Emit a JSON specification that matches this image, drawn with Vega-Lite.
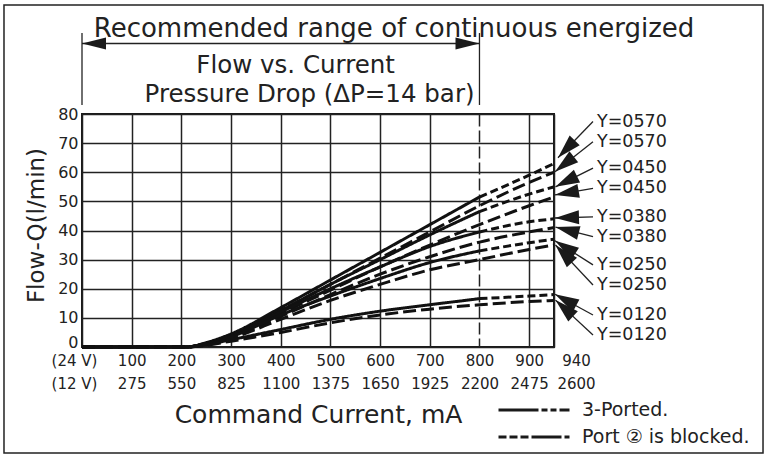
{
  "$schema": "https://vega.github.io/schema/vega-lite/v6.json",
  "width": 472,
  "height": 233,
  "autosize": {"type": "none"},
  "padding": {"left": 82, "top": 114, "right": 213, "bottom": 110},
  "background": "white",
  "config": {
    "font": "DejaVu Sans",
    "view": {"stroke": "#1a1a1a", "strokeWidth": 2},
    "axis": {"domain": false, "ticks": false, "grid": true, "gridColor": "#222", "gridWidth": 1.5, "gridOpacity": 1, "labelColor": "#222", "labelFont": "DejaVu Sans", "titleFont": "DejaVu Sans", "titleColor": "#222", "titleFontWeight": "normal"},
    "text": {"font": "DejaVu Sans", "color": "#222"}
  },
  "datasets": {
    "flow": [
      {"cfg": "3-Ported.", "Y": "0570", "current": 0, "flow": 0},
      {"cfg": "3-Ported.", "Y": "0570", "current": 210, "flow": 0},
      {"cfg": "3-Ported.", "Y": "0570", "current": 250, "flow": 1.5},
      {"cfg": "3-Ported.", "Y": "0570", "current": 300, "flow": 4.5},
      {"cfg": "3-Ported.", "Y": "0570", "current": 400, "flow": 13.5},
      {"cfg": "3-Ported.", "Y": "0570", "current": 500, "flow": 23},
      {"cfg": "3-Ported.", "Y": "0570", "current": 600, "flow": 32.5},
      {"cfg": "3-Ported.", "Y": "0570", "current": 700, "flow": 42},
      {"cfg": "3-Ported.", "Y": "0570", "current": 800, "flow": 51.5},
      {"cfg": "3-Ported.", "Y": "0570", "current": 900, "flow": 59},
      {"cfg": "3-Ported.", "Y": "0570", "current": 950, "flow": 63},
      {"cfg": "Port ② is blocked.", "Y": "0570", "current": 0, "flow": 0},
      {"cfg": "Port ② is blocked.", "Y": "0570", "current": 210, "flow": 0},
      {"cfg": "Port ② is blocked.", "Y": "0570", "current": 250, "flow": 1.3},
      {"cfg": "Port ② is blocked.", "Y": "0570", "current": 300, "flow": 4},
      {"cfg": "Port ② is blocked.", "Y": "0570", "current": 400, "flow": 12.5},
      {"cfg": "Port ② is blocked.", "Y": "0570", "current": 500, "flow": 21.5},
      {"cfg": "Port ② is blocked.", "Y": "0570", "current": 600, "flow": 30.5},
      {"cfg": "Port ② is blocked.", "Y": "0570", "current": 700, "flow": 39.5},
      {"cfg": "Port ② is blocked.", "Y": "0570", "current": 800, "flow": 48.5},
      {"cfg": "Port ② is blocked.", "Y": "0570", "current": 900, "flow": 56.5},
      {"cfg": "Port ② is blocked.", "Y": "0570", "current": 950, "flow": 60},
      {"cfg": "3-Ported.", "Y": "0450", "current": 0, "flow": 0},
      {"cfg": "3-Ported.", "Y": "0450", "current": 210, "flow": 0},
      {"cfg": "3-Ported.", "Y": "0450", "current": 250, "flow": 1.3},
      {"cfg": "3-Ported.", "Y": "0450", "current": 300, "flow": 4},
      {"cfg": "3-Ported.", "Y": "0450", "current": 400, "flow": 12.5},
      {"cfg": "3-Ported.", "Y": "0450", "current": 500, "flow": 21.5},
      {"cfg": "3-Ported.", "Y": "0450", "current": 600, "flow": 30},
      {"cfg": "3-Ported.", "Y": "0450", "current": 700, "flow": 38.5},
      {"cfg": "3-Ported.", "Y": "0450", "current": 800, "flow": 46.5},
      {"cfg": "3-Ported.", "Y": "0450", "current": 900, "flow": 52.5},
      {"cfg": "3-Ported.", "Y": "0450", "current": 950, "flow": 55},
      {"cfg": "Port ② is blocked.", "Y": "0450", "current": 0, "flow": 0},
      {"cfg": "Port ② is blocked.", "Y": "0450", "current": 210, "flow": 0},
      {"cfg": "Port ② is blocked.", "Y": "0450", "current": 250, "flow": 1.1},
      {"cfg": "Port ② is blocked.", "Y": "0450", "current": 300, "flow": 3.5},
      {"cfg": "Port ② is blocked.", "Y": "0450", "current": 400, "flow": 11.5},
      {"cfg": "Port ② is blocked.", "Y": "0450", "current": 500, "flow": 19.5},
      {"cfg": "Port ② is blocked.", "Y": "0450", "current": 600, "flow": 27.5},
      {"cfg": "Port ② is blocked.", "Y": "0450", "current": 700, "flow": 35},
      {"cfg": "Port ② is blocked.", "Y": "0450", "current": 800, "flow": 42},
      {"cfg": "Port ② is blocked.", "Y": "0450", "current": 900, "flow": 48.5},
      {"cfg": "Port ② is blocked.", "Y": "0450", "current": 950, "flow": 51.5},
      {"cfg": "3-Ported.", "Y": "0380", "current": 0, "flow": 0},
      {"cfg": "3-Ported.", "Y": "0380", "current": 210, "flow": 0},
      {"cfg": "3-Ported.", "Y": "0380", "current": 250, "flow": 1.2},
      {"cfg": "3-Ported.", "Y": "0380", "current": 300, "flow": 3.8},
      {"cfg": "3-Ported.", "Y": "0380", "current": 400, "flow": 12},
      {"cfg": "3-Ported.", "Y": "0380", "current": 500, "flow": 20},
      {"cfg": "3-Ported.", "Y": "0380", "current": 600, "flow": 27.5},
      {"cfg": "3-Ported.", "Y": "0380", "current": 700, "flow": 34.5},
      {"cfg": "3-Ported.", "Y": "0380", "current": 800, "flow": 39.5},
      {"cfg": "3-Ported.", "Y": "0380", "current": 900, "flow": 43},
      {"cfg": "3-Ported.", "Y": "0380", "current": 950, "flow": 44},
      {"cfg": "Port ② is blocked.", "Y": "0380", "current": 0, "flow": 0},
      {"cfg": "Port ② is blocked.", "Y": "0380", "current": 210, "flow": 0},
      {"cfg": "Port ② is blocked.", "Y": "0380", "current": 250, "flow": 1},
      {"cfg": "Port ② is blocked.", "Y": "0380", "current": 300, "flow": 3.3},
      {"cfg": "Port ② is blocked.", "Y": "0380", "current": 400, "flow": 10.5},
      {"cfg": "Port ② is blocked.", "Y": "0380", "current": 500, "flow": 18},
      {"cfg": "Port ② is blocked.", "Y": "0380", "current": 600, "flow": 25},
      {"cfg": "Port ② is blocked.", "Y": "0380", "current": 700, "flow": 31},
      {"cfg": "Port ② is blocked.", "Y": "0380", "current": 800, "flow": 36},
      {"cfg": "Port ② is blocked.", "Y": "0380", "current": 900, "flow": 39.5},
      {"cfg": "Port ② is blocked.", "Y": "0380", "current": 950, "flow": 41},
      {"cfg": "3-Ported.", "Y": "0250", "current": 0, "flow": 0},
      {"cfg": "3-Ported.", "Y": "0250", "current": 210, "flow": 0},
      {"cfg": "3-Ported.", "Y": "0250", "current": 250, "flow": 1.1},
      {"cfg": "3-Ported.", "Y": "0250", "current": 300, "flow": 3.5},
      {"cfg": "3-Ported.", "Y": "0250", "current": 400, "flow": 11},
      {"cfg": "3-Ported.", "Y": "0250", "current": 500, "flow": 17.5},
      {"cfg": "3-Ported.", "Y": "0250", "current": 600, "flow": 23.5},
      {"cfg": "3-Ported.", "Y": "0250", "current": 700, "flow": 29},
      {"cfg": "3-Ported.", "Y": "0250", "current": 800, "flow": 33},
      {"cfg": "3-Ported.", "Y": "0250", "current": 900, "flow": 35.8},
      {"cfg": "3-Ported.", "Y": "0250", "current": 950, "flow": 37},
      {"cfg": "Port ② is blocked.", "Y": "0250", "current": 0, "flow": 0},
      {"cfg": "Port ② is blocked.", "Y": "0250", "current": 210, "flow": 0},
      {"cfg": "Port ② is blocked.", "Y": "0250", "current": 250, "flow": 0.9},
      {"cfg": "Port ② is blocked.", "Y": "0250", "current": 300, "flow": 3},
      {"cfg": "Port ② is blocked.", "Y": "0250", "current": 400, "flow": 9.5},
      {"cfg": "Port ② is blocked.", "Y": "0250", "current": 500, "flow": 16},
      {"cfg": "Port ② is blocked.", "Y": "0250", "current": 600, "flow": 21.5},
      {"cfg": "Port ② is blocked.", "Y": "0250", "current": 700, "flow": 26.5},
      {"cfg": "Port ② is blocked.", "Y": "0250", "current": 800, "flow": 30},
      {"cfg": "Port ② is blocked.", "Y": "0250", "current": 900, "flow": 33.5},
      {"cfg": "Port ② is blocked.", "Y": "0250", "current": 950, "flow": 35},
      {"cfg": "3-Ported.", "Y": "0120", "current": 0, "flow": 0},
      {"cfg": "3-Ported.", "Y": "0120", "current": 210, "flow": 0},
      {"cfg": "3-Ported.", "Y": "0120", "current": 250, "flow": 0.8},
      {"cfg": "3-Ported.", "Y": "0120", "current": 300, "flow": 2.5},
      {"cfg": "3-Ported.", "Y": "0120", "current": 400, "flow": 6},
      {"cfg": "3-Ported.", "Y": "0120", "current": 500, "flow": 9.5},
      {"cfg": "3-Ported.", "Y": "0120", "current": 600, "flow": 12.3},
      {"cfg": "3-Ported.", "Y": "0120", "current": 700, "flow": 14.5},
      {"cfg": "3-Ported.", "Y": "0120", "current": 800, "flow": 16.6},
      {"cfg": "3-Ported.", "Y": "0120", "current": 900, "flow": 17.5},
      {"cfg": "3-Ported.", "Y": "0120", "current": 950, "flow": 18},
      {"cfg": "Port ② is blocked.", "Y": "0120", "current": 0, "flow": 0},
      {"cfg": "Port ② is blocked.", "Y": "0120", "current": 210, "flow": 0},
      {"cfg": "Port ② is blocked.", "Y": "0120", "current": 250, "flow": 0.6},
      {"cfg": "Port ② is blocked.", "Y": "0120", "current": 300, "flow": 2},
      {"cfg": "Port ② is blocked.", "Y": "0120", "current": 400, "flow": 5},
      {"cfg": "Port ② is blocked.", "Y": "0120", "current": 500, "flow": 8.3},
      {"cfg": "Port ② is blocked.", "Y": "0120", "current": 600, "flow": 11},
      {"cfg": "Port ② is blocked.", "Y": "0120", "current": 700, "flow": 13},
      {"cfg": "Port ② is blocked.", "Y": "0120", "current": 800, "flow": 14.5},
      {"cfg": "Port ② is blocked.", "Y": "0120", "current": 900, "flow": 15.6},
      {"cfg": "Port ② is blocked.", "Y": "0120", "current": 950, "flow": 16}
    ],
    "arrows": [
      {"label": "Y=0570", "tx": 958, "ty": 65.0, "lx": 1028.5, "ly": 77.4},
      {"label": "Y=0570", "tx": 952, "ty": 60.2, "lx": 1028.5, "ly": 70.5},
      {"label": "Y=0450", "tx": 953, "ty": 55.0, "lx": 1028.5, "ly": 61.4},
      {"label": "Y=0450", "tx": 952, "ty": 52.2, "lx": 1028.5, "ly": 54.5},
      {"label": "Y=0380", "tx": 952, "ty": 44.3, "lx": 1028.5, "ly": 44.7},
      {"label": "Y=0380", "tx": 953, "ty": 41.2, "lx": 1028.5, "ly": 37.9},
      {"label": "Y=0250", "tx": 952, "ty": 36.5, "lx": 1028.5, "ly": 28.2},
      {"label": "Y=0250", "tx": 953, "ty": 35.0, "lx": 1028.5, "ly": 21.3},
      {"label": "Y=0120", "tx": 952, "ty": 18.1, "lx": 1028.5, "ly": 11.0},
      {"label": "Y=0120", "tx": 953, "ty": 16.1, "lx": 1028.5, "ly": 4.1}
    ],
    "recommended": [{"from": 0, "to": 800}]
  },
  "layer": [
    {
      "data": {"name": "flow"},
      "transform": [{"filter": "datum.cfg !== '3-Ported.' || datum.current <= 800"}],
      "mark": {"type": "line", "strokeWidth": 3, "color": "#111", "interpolate": "monotone"},
      "encoding": {
        "x": {
          "field": "current", "type": "quantitative",
          "scale": {"domain": [0, 950], "nice": false},
          "axis": {
            "values": [0, 100, 200, 300, 400, 500, 600, 700, 800, 900, 950],
            "tickCount": 20,
            "labelExpr": "datum.value === 0 ? ['(24 V)', '(12 V)'] : datum.value === 950 ? ['940', '2600'] : [datum.label, '' + round(datum.value * 2.75)]",
            "labelFontSize": 15, "labelLineHeight": 23, "labelPadding": 6, "labelBaseline": "top",
            "labelFlush": false, "labelOverlap": false, "labelBound": false,
            "gridDash": {"condition": {"test": "datum.value === 800", "value": [12, 4]}, "value": []},
            "title": "Command Current, mA", "titleFontSize": 25, "titleY": 75, "titleBaseline": "alphabetic",
            "encoding": {"labels": {"dx": {"value": {"expr": "datum.value === 950 ? 22 : datum.value === 0 ? -8 : 0"}}}}
          }
        },
        "y": {
          "field": "flow", "type": "quantitative",
          "scale": {"domain": [0, 80], "nice": false},
          "axis": {
            "values": [0, 10, 20, 30, 40, 50, 60, 70, 80],
            "tickCount": 20,
            "grid": true,
            "labelOverlap": false,
            "labelFontSize": 16, "labelPadding": 4,
            "title": "Flow-Q(l/min)", "titleFontSize": 23, "titleX": -46, "titleY": 111,
            "titleAngle": -90, "titleBaseline": "middle", "titleAlign": "center",
            "encoding": {"labels": {"dy": {"value": {"expr": "datum.value === 0 ? -5 : 0"}}}}
          }
        },
        "detail": [{"field": "cfg"}, {"field": "Y"}],
        "strokeDash": {"condition": {"test": "datum.cfg === '3-Ported.'", "value": [1, 0]}, "value": [13, 5]}
      }
    },
    {
      "data": {"name": "flow"},
      "transform": [{"filter": "datum.cfg === '3-Ported.' && datum.current >= 800"}],
      "mark": {"type": "line", "strokeWidth": 3, "color": "#111", "interpolate": "monotone", "strokeDash": [8, 4]},
      "encoding": {
        "x": {"field": "current", "type": "quantitative"},
        "y": {"field": "flow", "type": "quantitative"},
        "detail": {"field": "Y"}
      }
    },
    {
      "data": {"name": "flow"},
      "transform": [{"filter": "datum.current === 0 && datum.Y === '0570'"}],
      "mark": {"type": "line", "strokeWidth": 3, "color": "#111"},
      "encoding": {
        "x": {"field": "current", "type": "quantitative"},
        "y": {"field": "flow", "type": "quantitative"},
        "strokeDash": {
          "field": "cfg", "type": "nominal",
          "scale": {"domain": ["3-Ported.", "Port ② is blocked."], "range": [[40, 3, 6, 3, 6, 3, 10], [8, 3, 8, 3, 8, 3, 30, 3, 6]]},
          "legend": {
            "orient": "none", "legendX": 415, "legendY": 282.5, "title": null,
            "symbolType": "stroke", "symbolSize": 5041, "symbolStrokeWidth": 3, "symbolStrokeColor": "#1a1a1a",
            "labelFontSize": 19, "labelColor": "#222", "labelOffset": 11, "labelLimit": 400, "clipHeight": 27,
            "padding": 0, "rowPadding": 0
          }
        }
      }
    },
    {
      "data": {"name": "recommended"},
      "mark": {"type": "rule", "strokeWidth": 1.3, "color": "#222"},
      "encoding": {
        "x": {"field": "from", "type": "quantitative"},
        "x2": {"field": "to"},
        "y": {"datum": 104.2}
      }
    },
    {
      "data": {"name": "recommended"},
      "transform": [{"fold": ["from", "to"], "as": ["end", "bound"]}],
      "mark": {"type": "rule", "strokeWidth": 1.3, "color": "#222"},
      "encoding": {
        "x": {"field": "bound", "type": "quantitative"},
        "y": {"datum": 107.8},
        "y2": {"datum": 83.1}
      }
    },
    {
      "data": {"name": "recommended"},
      "transform": [{"fold": ["from", "to"], "as": ["end", "bound"]}],
      "mark": {"type": "point", "shape": "M0,0L-24,-6L-24,6Z", "filled": true, "color": "#1a1a1a", "size": 4, "opacity": 1},
      "encoding": {
        "x": {"field": "bound", "type": "quantitative"},
        "y": {"datum": 104.2},
        "angle": {"condition": {"test": "datum.end === 'from'", "value": 180}, "value": 0}
      }
    },
    {
      "data": {"values": [{"t": "Recommended range of continuous energized"}]},
      "mark": {"type": "text", "fontSize": 26, "align": "center", "baseline": "alphabetic"},
      "encoding": {"x": {"datum": 628}, "y": {"datum": 106.5}, "text": {"field": "t"}}
    },
    {
      "data": {"values": [{"t": "Flow vs. Current"}]},
      "mark": {"type": "text", "fontSize": 24.5, "align": "center", "baseline": "alphabetic"},
      "encoding": {"x": {"datum": 430}, "y": {"datum": 94.0}, "text": {"field": "t"}}
    },
    {
      "data": {"values": [{"t": "Pressure Drop (ΔP=14 bar)"}]},
      "mark": {"type": "text", "fontSize": 24.5, "align": "center", "baseline": "alphabetic"},
      "encoding": {"x": {"datum": 458}, "y": {"datum": 84.2}, "text": {"field": "t"}}
    },
    {
      "data": {"name": "arrows"},
      "mark": {"type": "rule", "strokeWidth": 1.3, "color": "#222"},
      "encoding": {
        "x": {"field": "lx", "type": "quantitative"},
        "y": {"field": "ly", "type": "quantitative"},
        "x2": {"field": "tx"},
        "y2": {"field": "ty"}
      }
    },
    {
      "data": {"name": "arrows"},
      "transform": [{"calculate": "atan2((datum.ly - datum.ty) * 2.9125, (datum.tx - datum.lx) * 0.49684) * 180 / PI", "as": "dir"}],
      "mark": {"type": "point", "shape": "M0,0L-24,-7L-24,7Z", "filled": true, "color": "#1a1a1a", "size": 4, "opacity": 1},
      "encoding": {
        "x": {"field": "tx", "type": "quantitative"},
        "y": {"field": "ty", "type": "quantitative"},
        "angle": {"field": "dir", "type": "quantitative", "scale": null}
      }
    },
    {
      "data": {"name": "arrows"},
      "mark": {"type": "text", "fontSize": 17.5, "align": "left", "baseline": "middle", "dx": 4},
      "encoding": {
        "x": {"field": "lx", "type": "quantitative"},
        "y": {"field": "ly", "type": "quantitative"},
        "text": {"field": "label"}
      }
    },
    {
      "data": {"values": [{}]},
      "mark": {"type": "rect", "filled": false, "stroke": "#222", "strokeWidth": 1.5},
      "encoding": {"x": {"datum": -157}, "x2": {"datum": 1370.7}, "y": {"datum": 117.4}, "y2": {"datum": -36.4}}
    }
  ]
}
